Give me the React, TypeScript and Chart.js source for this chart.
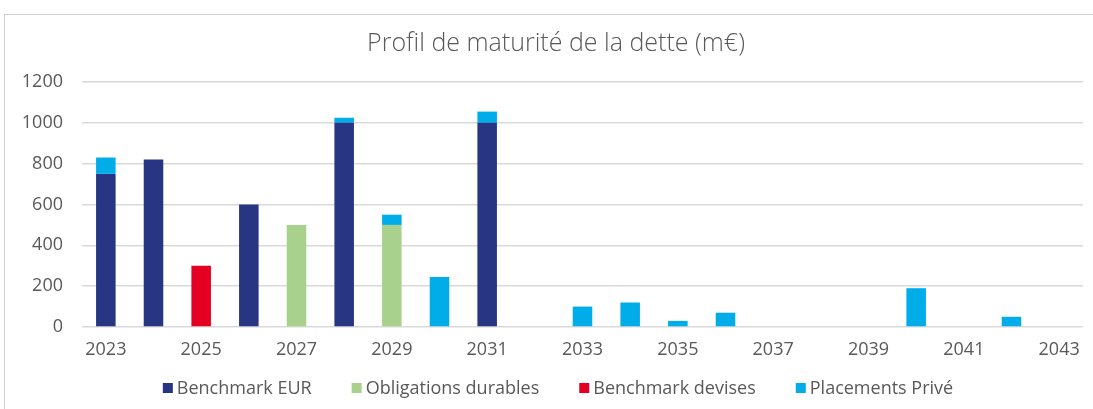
import React, { useEffect, useRef } from "react";
import { Chart, registerables } from "chart.js";

Chart.register(...registerables);

const years = [
  "2023", "2024", "2025", "2026", "2027", "2028", "2029", "2030", "2031", "2032",
  "2033", "2034", "2035", "2036", "2037", "2038", "2039", "2040", "2041", "2042", "2043",
];

const benchmarkEUR = [750, 820, null, 600, null, 1000, null, null, 1000, null, null, null, null, null, null, null, null, null, null, null, null];
const obligationsDurables = [null, null, null, null, 500, null, 500, null, null, null, null, null, null, null, null, null, null, null, null, null, null];
const benchmarkDevises = [null, null, 300, null, null, null, null, null, null, null, null, null, null, null, null, null, null, null, null, null, null];
const placementsPrive = [80, null, null, null, null, 25, 50, 245, 55, null, 100, 120, 30, 70, null, null, null, 190, null, 50, null];

const yTicks = { min: 0, max: 1200, step: 200 };
const title = "Profil de maturité de la dette (m€)";

const TEXT = "#595959";
const GRID = "#d9d9d9";
const FONT = "'Open Sans', 'DejaVu Sans', sans-serif";

const titleAndLegend = {
  id: "titleAndLegend",
  afterDraw(chart: any) {
    const ctx = chart.ctx;
    ctx.save();
    // title
    ctx.font = `300 25px ${FONT}`;
    ctx.fillStyle = TEXT;
    ctx.textAlign = "center";
    ctx.textBaseline = "middle";
    ctx.fillText(title, 556, 44);

    // legend
    const fontSize = 18;
    const box = 10;
    const gap = 4;
    const itemGap = 40;
    ctx.font = `${fontSize}px ${FONT}`;
    const items = chart.data.datasets.map((d: any) => ({
      label: d.label,
      color: d.backgroundColor,
      w: box + gap + ctx.measureText(d.label).width,
    }));
    const total = items.reduce((a: number, it: any) => a + it.w, 0) + itemGap * (items.length - 1);
    const cx = 558;
    const cy = 388;
    let x = cx - total / 2;
    ctx.textAlign = "left";
    for (const it of items) {
      ctx.fillStyle = it.color;
      ctx.fillRect(x, cy - box / 2, box, box);
      ctx.fillStyle = TEXT;
      ctx.fillText(it.label, x + box + gap, cy + 1);
      x += it.w + itemGap;
    }
    ctx.restore();
  },
};

export default function App() {
  const ref = useRef<HTMLCanvasElement | null>(null);

  useEffect(() => {
    if (!ref.current) return;
    const chart = new Chart(ref.current, {
      type: "bar",
      data: {
        labels: years,
        datasets: [
          { label: "Benchmark EUR", data: benchmarkEUR, backgroundColor: "#283583" },
          { label: "Obligations durables", data: obligationsDurables, backgroundColor: "#a9d18e" },
          { label: "Benchmark devises", data: benchmarkDevises, backgroundColor: "#e30022" },
          { label: "Placements Privé", data: placementsPrive, backgroundColor: "#00ade8" },
        ],
      },
      options: {
        animation: false,
        responsive: false,
        maintainAspectRatio: false,
        datasets: { bar: { categoryPercentage: 1, barPercentage: 0.41 } },
        layout: { padding: { left: 8, right: 10, top: 82, bottom: 50 } },
        plugins: {
          title: { display: false },
          legend: { display: false },
          tooltip: { enabled: false },
        },
        scales: {
          x: {
            stacked: true,
            grid: { display: false, drawTicks: false },
            border: { display: false },
            ticks: {
              color: TEXT,
              font: { family: FONT, size: 18 },
              padding: 12,
              autoSkip: false,
              maxRotation: 0,
              callback: (_v: any, i: number) => (i % 2 === 0 ? years[i] : ""),
            },
            afterFit: (s: any) => {
              s.height = 32;
            },
          },
          y: {
            stacked: true,
            min: yTicks.min,
            max: yTicks.max,
            grid: { color: GRID, lineWidth: 1.5, drawTicks: false },
            border: { display: false },
            ticks: {
              stepSize: yTicks.step,
              color: TEXT,
              font: { family: FONT, size: 18 },
              padding: 19,
              callback: (v: any) => String(v),
            },
            afterFit: (s: any) => {
              s.width = 74;
            },
          },
        },
      },
      plugins: [titleAndLegend],
    });
    return () => chart.destroy();
  }, []);

  return (
    <div style={{ position: "absolute", left: 0, top: 0, width: 1093, height: 409, background: "#fff", overflow: "hidden" }}>
      <div
        style={{
          position: "absolute",
          left: 4,
          top: 14,
          width: 1200,
          height: 500,
          border: "1px solid #d0d0d0",
          boxSizing: "border-box",
        }}
      />
      <canvas ref={ref} width={1093} height={409} style={{ position: "absolute", left: 0, top: 0, width: 1093, height: 409 }} />
    </div>
  );
}
